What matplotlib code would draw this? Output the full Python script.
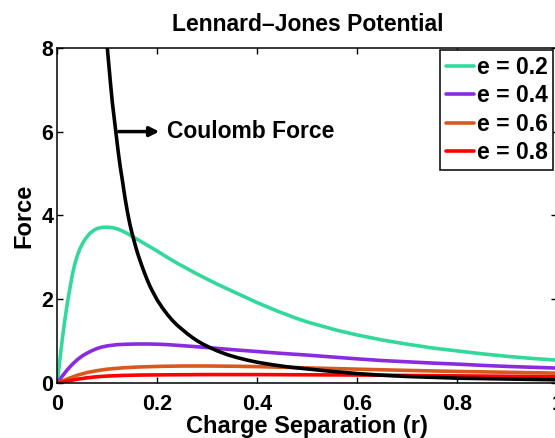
import matplotlib
matplotlib.use("Agg")
import matplotlib.pyplot as plt

plt.rcParams['font.family'] = ['Liberation Sans', 'DejaVu Sans']
plt.rcParams['font.weight'] = 'bold'

# Data
r_e02 = [0, 0.005, 0.01, 0.015, 0.02, 0.025, 0.03, 0.035, 0.04, 0.045, 0.05, 0.055, 0.06,
         0.065, 0.07, 0.075, 0.08, 0.09, 0.10, 0.11, 0.12, 0.13, 0.14, 0.15, 0.16, 0.17,
         0.18, 0.19, 0.20, 0.22, 0.24, 0.26, 0.28, 0.30, 0.32, 0.34, 0.36, 0.38, 0.40,
         0.42, 0.44, 0.46, 0.48, 0.50, 0.53, 0.56, 0.60, 0.65, 0.70, 0.75, 0.80, 0.85,
         0.90, 0.95, 1.00]
f_e02 = [0, 0.55, 1.05, 1.5, 1.9, 2.25, 2.58, 2.84, 3.04, 3.2, 3.32, 3.42, 3.5,
         3.57, 3.62, 3.66, 3.69, 3.715, 3.72, 3.71, 3.68, 3.63, 3.57, 3.5, 3.43, 3.36,
         3.29, 3.22, 3.15, 3.0, 2.86, 2.73, 2.6, 2.48, 2.36, 2.25, 2.14, 2.03, 1.92,
         1.82, 1.72, 1.63, 1.54, 1.46, 1.36, 1.26, 1.15, 1.03, 0.93, 0.84, 0.77, 0.70,
         0.64, 0.59, 0.55]

r_e04 = [0, 0.01, 0.02, 0.03, 0.04, 0.05, 0.06, 0.07, 0.08, 0.09, 0.10, 0.12, 0.14, 0.16,
         0.18, 0.20, 0.22, 0.25, 0.30, 0.35, 0.40, 0.45, 0.50, 0.55, 0.60, 0.65, 0.70,
         0.75, 0.80, 0.85, 0.90, 0.95, 1.00]
f_e04 = [0, 0.17, 0.32, 0.45, 0.56, 0.65, 0.72, 0.78, 0.83, 0.865, 0.89, 0.92, 0.93, 0.935,
         0.935, 0.93, 0.92, 0.895, 0.85, 0.80, 0.755, 0.71, 0.67, 0.625, 0.58, 0.54, 0.51,
         0.48, 0.455, 0.425, 0.40, 0.38, 0.36]

r_e06 = [0, 0.02, 0.04, 0.06, 0.08, 0.10, 0.13, 0.16, 0.20, 0.25, 0.30, 0.35, 0.40, 0.45,
         0.50, 0.60, 0.70, 0.80, 0.90, 1.00]
f_e06 = [0, 0.10, 0.19, 0.255, 0.30, 0.335, 0.365, 0.385, 0.40, 0.41, 0.41, 0.405, 0.395, 0.38,
         0.365, 0.335, 0.305, 0.28, 0.26, 0.24]

r_e08 = [0, 0.02, 0.04, 0.06, 0.08, 0.10, 0.13, 0.17, 0.22, 0.3, 0.4, 0.5, 0.6, 0.7, 0.8,
         0.9, 1.0]
f_e08 = [0, 0.05, 0.095, 0.13, 0.155, 0.17, 0.185, 0.195, 0.2, 0.205, 0.205, 0.2, 0.195,
         0.185, 0.175, 0.165, 0.155]

r_coul = [0.097, 0.100, 0.103, 0.106, 0.110, 0.114, 0.118, 0.122, 0.126, 0.130, 0.135, 0.140,
          0.145, 0.150, 0.155, 0.160, 0.165, 0.170, 0.175, 0.180, 0.185, 0.190, 0.195, 0.200,
          0.21, 0.22, 0.23, 0.24, 0.25, 0.26, 0.27, 0.28, 0.29, 0.30, 0.32, 0.34, 0.36, 0.38,
          0.40, 0.43, 0.46, 0.50, 0.55, 0.60, 0.65, 0.70, 0.75, 0.80, 0.85, 0.90, 0.95, 1.00]
f_coul = [8.5, 8.0, 7.6, 7.2, 6.7, 6.3, 5.9, 5.5, 5.15, 4.85, 4.45, 4.1,
          3.8, 3.55, 3.33, 3.12, 2.94, 2.77, 2.61, 2.46, 2.32, 2.2, 2.09, 1.98,
          1.8, 1.64, 1.5, 1.38, 1.28, 1.18, 1.09, 1.01, 0.94, 0.88, 0.77, 0.68, 0.61, 0.55,
          0.50, 0.44, 0.39, 0.34, 0.28, 0.23, 0.19, 0.16, 0.14, 0.12, 0.11, 0.10, 0.09, 0.08]

labels = ['e = 0.2', 'e = 0.4', 'e = 0.6', 'e = 0.8']
colors = ['#33D99B', '#8A2BE2', '#D9581E', '#FF0000']
x_ticks = [0, 0.2, 0.4, 0.6, 0.8, 1]
x_ticklabels = ['0', '0.2', '0.4', '0.6', '0.8', '1']
y_ticks = [0, 2, 4, 6, 8]

fig = plt.figure(figsize=(5.55, 4.38), dpi=100)
ax = fig.add_axes([57.3 / 555, (438 - 383.2) / 438, 500 / 555, (383.2 - 47.7) / 438])

lw = 2.6
series = [(r_e02, f_e02), (r_e04, f_e04), (r_e06, f_e06), (r_e08, f_e08)]
handles = []
for (r, f), c, lab in zip(series, colors, labels):
    h, = ax.plot(r, f, color=c, lw=lw, label=lab, solid_capstyle='round', solid_joinstyle='round')
    handles.append(h)
ax.plot(r_coul, f_coul, color='black', lw=lw, solid_joinstyle='round')

ax.set_xlim(0, 1)
ax.set_ylim(0, 8)
ax.set_xticks(x_ticks)
ax.set_xticklabels(x_ticklabels)
ax.set_yticks(y_ticks)
ax.tick_params(direction='in', top=True, right=True, length=4, width=1,
               labelsize=15.5)
ax.tick_params(axis='x', pad=8)
ax.tick_params(axis='y', pad=3)
for s in ax.spines.values():
    s.set_linewidth(1.1)

ax.set_title('Lennard\u2013Jones Potential', fontsize=16.5, fontweight='bold', pad=12)
ax.set_xlabel('Charge Separation (r)', fontsize=17, fontweight='bold', labelpad=0)
ax.set_ylabel('Force', fontsize=17, fontweight='bold', labelpad=4)

ax.annotate('', xy=(0.204, 6.0), xytext=(0.123, 6.0),
            arrowprops=dict(arrowstyle='-|>', lw=2.5, color='black', mutation_scale=14,
                            shrinkA=0, shrinkB=0))
ax.text(0.219, 6.0, 'Coulomb Force', fontsize=16.5, fontweight='bold', va='center', ha='left')

leg = ax.legend(handles=handles, loc='upper right', bbox_to_anchor=(0.992, 0.992),
                borderaxespad=0, fontsize=16.5, handlelength=1.22, handletextpad=0.12,
                labelspacing=0.23, borderpad=0.25, fancybox=False, framealpha=1,
                edgecolor='black')
leg.get_frame().set_linewidth(1.1)

fig.savefig('out.png', dpi=100)
